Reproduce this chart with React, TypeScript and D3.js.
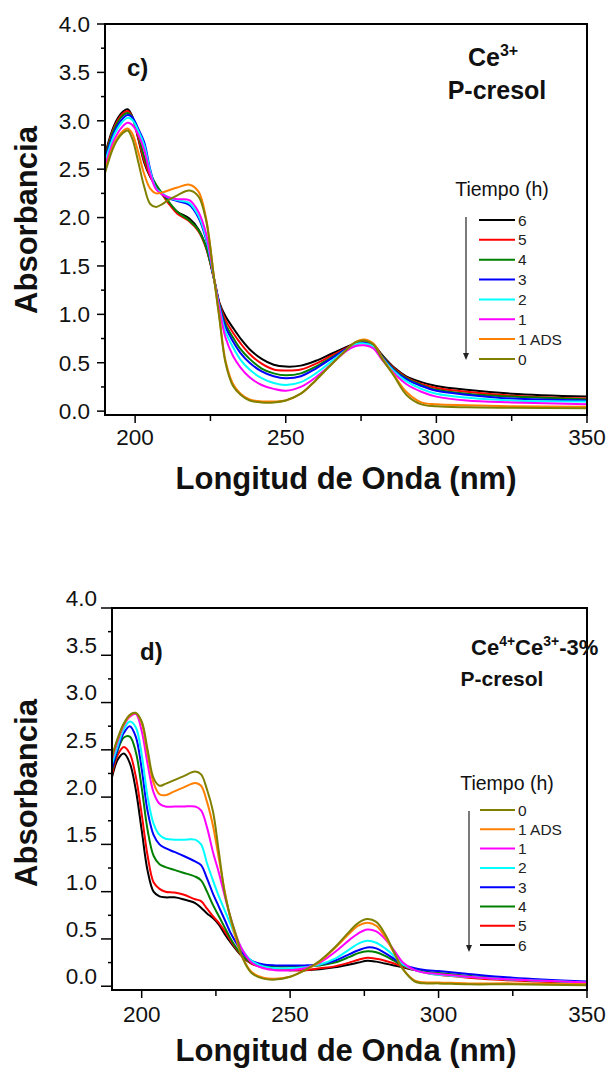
import React from 'react';
import * as d3 from 'd3';

// ---------- Panel c) Ce3+ P-cresol ----------
const WL_C = [190, 193, 195.5, 197.5, 199, 201, 203, 205, 207, 209, 211, 214, 218, 221, 223.5, 226.3, 228, 230, 232.5, 235, 238, 242, 246, 250, 255, 260, 265, 270, 273, 276, 279, 282, 286, 290, 295, 300, 310, 325, 350];
const C_T6 = [2.65, 2.95, 3.08, 3.12, 3.05, 2.82, 2.57, 2.42, 2.32, 2.24, 2.16, 2.06, 1.99, 1.88, 1.70, 1.35, 1.12, 0.98, 0.86, 0.75, 0.64, 0.54, 0.48, 0.46, 0.47, 0.52, 0.59, 0.66, 0.70, 0.72, 0.69, 0.58, 0.45, 0.36, 0.30, 0.26, 0.22, 0.18, 0.15];
const C_T5 = [2.63, 2.93, 3.06, 3.10, 3.04, 2.83, 2.59, 2.43, 2.32, 2.24, 2.15, 2.04, 1.96, 1.86, 1.69, 1.35, 1.11, 0.94, 0.81, 0.70, 0.59, 0.49, 0.43, 0.42, 0.43, 0.49, 0.57, 0.65, 0.70, 0.72, 0.69, 0.57, 0.44, 0.35, 0.28, 0.24, 0.20, 0.16, 0.13];
const C_T4 = [2.62, 2.91, 3.04, 3.08, 3.04, 2.86, 2.63, 2.46, 2.34, 2.25, 2.17, 2.06, 1.97, 1.87, 1.70, 1.35, 1.10, 0.90, 0.76, 0.64, 0.54, 0.44, 0.39, 0.37, 0.39, 0.46, 0.55, 0.64, 0.70, 0.71, 0.68, 0.57, 0.43, 0.34, 0.27, 0.22, 0.18, 0.15, 0.12];
const C_T3 = [2.60, 2.88, 3.01, 3.06, 3.04, 2.92, 2.78, 2.50, 2.30, 2.24, 2.20, 2.17, 2.13, 2.00, 1.78, 1.35, 1.09, 0.87, 0.72, 0.60, 0.50, 0.41, 0.36, 0.34, 0.36, 0.44, 0.54, 0.64, 0.69, 0.71, 0.68, 0.56, 0.42, 0.33, 0.26, 0.21, 0.17, 0.13, 0.11];
const C_T2 = [2.57, 2.85, 2.98, 3.03, 3.01, 2.90, 2.75, 2.48, 2.30, 2.25, 2.21, 2.18, 2.15, 2.02, 1.80, 1.35, 1.07, 0.82, 0.66, 0.53, 0.43, 0.34, 0.29, 0.27, 0.30, 0.39, 0.51, 0.63, 0.69, 0.70, 0.67, 0.55, 0.41, 0.31, 0.23, 0.18, 0.14, 0.11, 0.10];
const C_T1 = [2.53, 2.80, 2.93, 2.98, 2.96, 2.86, 2.70, 2.45, 2.29, 2.24, 2.21, 2.19, 2.18, 2.06, 1.84, 1.35, 1.05, 0.76, 0.57, 0.45, 0.35, 0.27, 0.23, 0.21, 0.25, 0.35, 0.48, 0.62, 0.67, 0.68, 0.65, 0.53, 0.39, 0.28, 0.20, 0.15, 0.11, 0.09, 0.07];
const C_T1ADS = [2.48, 2.76, 2.88, 2.92, 2.87, 2.68, 2.45, 2.30, 2.25, 2.26, 2.28, 2.31, 2.34, 2.27, 2.00, 1.35, 0.97, 0.52, 0.28, 0.18, 0.12, 0.10, 0.10, 0.11, 0.18, 0.32, 0.48, 0.63, 0.71, 0.74, 0.70, 0.55, 0.37, 0.20, 0.09, 0.07, 0.06, 0.05, 0.045];
const C_T0 = [2.46, 2.74, 2.86, 2.90, 2.82, 2.58, 2.32, 2.14, 2.11, 2.14, 2.18, 2.23, 2.28, 2.22, 1.98, 1.35, 0.95, 0.50, 0.26, 0.17, 0.11, 0.09, 0.09, 0.11, 0.18, 0.32, 0.48, 0.63, 0.71, 0.73, 0.69, 0.54, 0.36, 0.17, 0.07, 0.05, 0.04, 0.035, 0.03];

// ---------- Panel d) Ce4+Ce3+-3% P-cresol ----------
const WL_D = [190, 192, 194, 196, 198, 200, 202, 204, 206, 208, 211, 214, 218, 220, 222, 224, 226, 228, 230, 232, 234, 237, 241, 245, 250, 255, 260, 265, 270, 273, 276, 279, 282, 285, 288, 292, 296, 300, 310, 325, 350];
const D_T6 = [2.21, 2.40, 2.46, 2.36, 2.08, 1.65, 1.22, 1.00, 0.95, 0.94, 0.94, 0.92, 0.88, 0.83, 0.77, 0.72, 0.65, 0.55, 0.46, 0.38, 0.31, 0.24, 0.20, 0.18, 0.17, 0.17, 0.18, 0.20, 0.23, 0.25, 0.27, 0.26, 0.24, 0.22, 0.20, 0.17, 0.15, 0.13, 0.10, 0.07, 0.03];
const D_T5 = [2.24, 2.45, 2.53, 2.46, 2.22, 1.82, 1.38, 1.10, 1.03, 1.00, 0.99, 0.97, 0.92, 0.90, 0.82, 0.74, 0.67, 0.58, 0.48, 0.39, 0.31, 0.24, 0.20, 0.18, 0.17, 0.17, 0.19, 0.21, 0.25, 0.28, 0.30, 0.29, 0.27, 0.24, 0.21, 0.17, 0.14, 0.12, 0.09, 0.06, 0.03];
const D_T4 = [2.28, 2.50, 2.63, 2.64, 2.48, 2.10, 1.65, 1.38, 1.29, 1.26, 1.23, 1.20, 1.16, 1.12, 1.00, 0.86, 0.74, 0.62, 0.50, 0.40, 0.32, 0.25, 0.22, 0.21, 0.21, 0.21, 0.22, 0.25, 0.31, 0.35, 0.37, 0.36, 0.32, 0.27, 0.22, 0.18, 0.15, 0.14, 0.11, 0.07, 0.04];
const D_T3 = [2.30, 2.52, 2.68, 2.75, 2.64, 2.30, 1.85, 1.60, 1.50, 1.46, 1.42, 1.38, 1.32, 1.28, 1.14, 0.98, 0.84, 0.70, 0.56, 0.45, 0.35, 0.27, 0.23, 0.22, 0.22, 0.22, 0.23, 0.27, 0.34, 0.38, 0.41, 0.40, 0.35, 0.29, 0.23, 0.19, 0.17, 0.16, 0.13, 0.09, 0.05];
const D_T2 = [2.35, 2.55, 2.72, 2.80, 2.74, 2.45, 2.00, 1.72, 1.60, 1.56, 1.55, 1.55, 1.55, 1.50, 1.30, 1.12, 0.95, 0.80, 0.65, 0.50, 0.38, 0.27, 0.21, 0.19, 0.19, 0.20, 0.23, 0.29, 0.39, 0.45, 0.48, 0.46, 0.40, 0.32, 0.23, 0.17, 0.14, 0.12, 0.10, 0.07, 0.04];
const D_T1 = [2.40, 2.60, 2.76, 2.85, 2.88, 2.70, 2.35, 2.05, 1.93, 1.90, 1.90, 1.90, 1.90, 1.86, 1.68, 1.42, 1.20, 0.95, 0.72, 0.52, 0.38, 0.25, 0.19, 0.17, 0.17, 0.19, 0.25, 0.36, 0.49, 0.56, 0.60, 0.58, 0.50, 0.38, 0.25, 0.17, 0.14, 0.13, 0.10, 0.07, 0.04];
const D_T1ADS = [2.42, 2.62, 2.77, 2.86, 2.89, 2.78, 2.45, 2.15, 2.03, 2.02, 2.06, 2.10, 2.15, 2.12, 1.95, 1.70, 1.35, 1.00, 0.70, 0.48, 0.30, 0.15, 0.09, 0.08, 0.10, 0.17, 0.26, 0.40, 0.56, 0.64, 0.67, 0.64, 0.52, 0.35, 0.18, 0.06, 0.04, 0.04, 0.03, 0.03, 0.02];
const D_T0 = [2.43, 2.63, 2.78, 2.87, 2.89, 2.80, 2.50, 2.20, 2.12, 2.14, 2.18, 2.22, 2.27, 2.24, 2.08, 1.85, 1.42, 0.98, 0.72, 0.52, 0.30, 0.14, 0.08, 0.07, 0.10, 0.17, 0.27, 0.41, 0.58, 0.67, 0.71, 0.68, 0.55, 0.36, 0.18, 0.05, 0.03, 0.03, 0.02, 0.02, 0.01];

const LABELS = ['6', '5', '4', '3', '2', '1', '1 ADS', '0'];
const COLORS = ['#000000', '#ff0000', '#008000', '#0000ff', '#00ffff', '#ff00ff', '#ff8000', '#808000'];
const SERIES_C = [C_T6, C_T5, C_T4, C_T3, C_T2, C_T1, C_T1ADS, C_T0];
const SERIES_D = [D_T6, D_T5, D_T4, D_T3, D_T2, D_T1, D_T1ADS, D_T0];

const X_MAJOR = [200, 250, 300, 350];
const X_MINOR = [225, 275, 325];
const Y_MAJOR = [0, 0.5, 1, 1.5, 2, 2.5, 3, 3.5, 4];
const Y_MINOR = [0.25, 0.75, 1.25, 1.75, 2.25, 2.75, 3.25, 3.75];

const FONT = '"Liberation Sans", Arial, sans-serif';

type PanelProps = {
  id: string;
  frame: { x0: number; x1: number; y0: number; y1: number };
  wl: number[];
  series: number[][];
  legendOrder: number[];
  yLabelShift: number;
  yMajorLen: number;
  xLabelY: number;
  titleY: number;
  yTitleY: number;
  legend: { titleX: number; titleY: number; rowY0: number; rowStep: number; lx0: number; lx1: number; arrowX: number; arrowY0: number; arrowY1: number };
  children?: React.ReactNode;
};

function Panel(p: PanelProps) {
  const { frame } = p;
  const x = d3.scaleLinear().domain([190, 350]).range([frame.x0, frame.x1]);
  const y = d3.scaleLinear().domain([-0.04, 4]).range([frame.y1, frame.y0]);
  const line = d3
    .line<[number, number]>()
    .x((d) => x(d[0]))
    .y((d) => y(d[1]))
    .curve(d3.curveCatmullRom.alpha(0.5));
  const drawOrder = [0, 1, 2, 3, 4, 5, 6, 7];
  const lg = p.legend;
  return (
    <g>
      <defs>
        <clipPath id={`clip-${p.id}`}>
          <rect x={frame.x0} y={frame.y0} width={frame.x1 - frame.x0} height={frame.y1 - frame.y0} />
        </clipPath>
      </defs>
      <g clipPath={`url(#clip-${p.id})`}>
        {drawOrder.map((i) => (
          <path
            key={i}
            d={line(p.wl.map((w, k) => [w, p.series[i][k]] as [number, number])) || ''}
            fill="none"
            stroke={COLORS[i]}
            strokeWidth={2}
            strokeLinejoin="round"
          />
        ))}
      </g>
      {/* frame */}
      <rect x={frame.x0} y={frame.y0} width={frame.x1 - frame.x0} height={frame.y1 - frame.y0} fill="none" stroke="#000" strokeWidth={2} />
      {/* y ticks */}
      {Y_MAJOR.map((v) => (
        <g key={`ym${v}`}>
          <line x1={frame.x0 - p.yMajorLen} x2={frame.x0} y1={y(v)} y2={y(v)} stroke="#000" strokeWidth={1.5} />
          <text x={frame.x0 - 15} y={y(v) + p.yLabelShift} dy="0.35em" textAnchor="end" fontSize={22.5} fontFamily={FONT} fill="#111">
            {d3.format('.1f')(v)}
          </text>
        </g>
      ))}
      {Y_MINOR.map((v) => (
        <line key={`yn${v}`} x1={frame.x0 - 4} x2={frame.x0} y1={y(v)} y2={y(v)} stroke="#000" strokeWidth={1.5} />
      ))}
      {/* x ticks */}
      {X_MAJOR.map((v) => (
        <g key={`xm${v}`}>
          <line x1={x(v)} x2={x(v)} y1={frame.y1} y2={frame.y1 + 8} stroke="#000" strokeWidth={1.5} />
          <text x={x(v)} y={p.xLabelY} textAnchor="middle" fontSize={22.5} fontFamily={FONT} fill="#111">
            {v}
          </text>
        </g>
      ))}
      {X_MINOR.map((v) => (
        <line key={`xn${v}`} x1={x(v)} x2={x(v)} y1={frame.y1} y2={frame.y1 + 6} stroke="#000" strokeWidth={1.5} />
      ))}
      {/* axis titles */}
      <text x={346} y={p.titleY} textAnchor="middle" fontSize={31} fontWeight="bold" fontFamily={FONT} fill="#111">
        Longitud de Onda (nm)
      </text>
      <text transform={`translate(37,${p.yTitleY}) rotate(-90)`} textAnchor="middle" fontSize={31} fontWeight="bold" fontFamily={FONT} fill="#111">
        Absorbancia
      </text>
      {/* legend */}
      <text x={lg.titleX} y={lg.titleY} textAnchor="middle" fontSize={19.5} fontFamily={FONT} fill="#111">
        Tiempo (h)
      </text>
      {p.legendOrder.map((i, r) => (
        <g key={`lg${i}`}>
          <line x1={lg.lx0} x2={lg.lx1} y1={lg.rowY0 + r * lg.rowStep} y2={lg.rowY0 + r * lg.rowStep} stroke={COLORS[i]} strokeWidth={2} />
          <text x={lg.lx1 + 3} y={lg.rowY0 + r * lg.rowStep} dy="0.36em" fontSize={15.5} fontFamily={FONT} fill="#222">
            {LABELS[i]}
          </text>
        </g>
      ))}
      <line x1={lg.arrowX} x2={lg.arrowX} y1={lg.arrowY0} y2={lg.arrowY1 - 5} stroke="#222" strokeWidth={1.2} />
      <path d={`M${lg.arrowX - 3},${lg.arrowY1 - 7} L${lg.arrowX + 3},${lg.arrowY1 - 7} L${lg.arrowX},${lg.arrowY1} Z`} fill="#222" />
      {p.children}
    </g>
  );
}

export default function App() {
  return (
    <svg
      width={611}
      height={1072}
      viewBox="0 0 611 1072"
      style={{ position: 'absolute', left: 0, top: 0, background: '#fff' }}
    >
      <rect x={0} y={0} width={611} height={1072} fill="#fff" />
      <Panel
        id="c"
        frame={{ x0: 105, x1: 587, y0: 24, y1: 415 }}
        wl={WL_C}
        series={SERIES_C}
        legendOrder={[0, 1, 2, 3, 4, 5, 6, 7]}
        yLabelShift={0}
        yMajorLen={8}
        xLabelY={445}
        titleY={489}
        yTitleY={220}
        legend={{ titleX: 502, titleY: 196, rowY0: 220, rowStep: 19.85, lx0: 479, lx1: 515, arrowX: 466, arrowY0: 217, arrowY1: 360 }}
      >
        <text x={127} y={76} fontSize={24} fontWeight="bold" fontFamily={FONT} fill="#111">c)</text>
        <text x={468} y={66} fontSize={25} fontWeight="bold" fontFamily={FONT} fill="#111">
          Ce<tspan fontSize={16} dy={-10}>3+</tspan>
        </text>
        <text x={497} y={99} textAnchor="middle" fontSize={25} fontWeight="bold" fontFamily={FONT} fill="#111">P-cresol</text>
      </Panel>
      <Panel
        id="d"
        frame={{ x0: 112, x1: 587, y0: 608, y1: 990 }}
        wl={WL_D}
        series={SERIES_D}
        legendOrder={[7, 6, 5, 4, 3, 2, 1, 0]}
        yLabelShift={-10}
        yMajorLen={11}
        xLabelY={1022}
        titleY={1061}
        yTitleY={793}
        legend={{ titleX: 507, titleY: 790, rowY0: 810, rowStep: 19.3, lx0: 480, lx1: 515, arrowX: 469, arrowY0: 811, arrowY1: 952 }}
      >
        <text x={140} y={660} fontSize={24} fontWeight="bold" fontFamily={FONT} fill="#111">d)</text>
        <text x={471} y={655} fontSize={22} fontWeight="bold" fontFamily={FONT} fill="#111">
          Ce<tspan fontSize={14} dy={-9}>4+</tspan>
          <tspan dy={9}>Ce</tspan>
          <tspan fontSize={14} dy={-9}>3+</tspan>
          <tspan dy={9}>-3%</tspan>
        </text>
        <text x={502} y={686} textAnchor="middle" fontSize={21} fontWeight="bold" fontFamily={FONT} fill="#111">P-cresol</text>
      </Panel>
    </svg>
  );
}
